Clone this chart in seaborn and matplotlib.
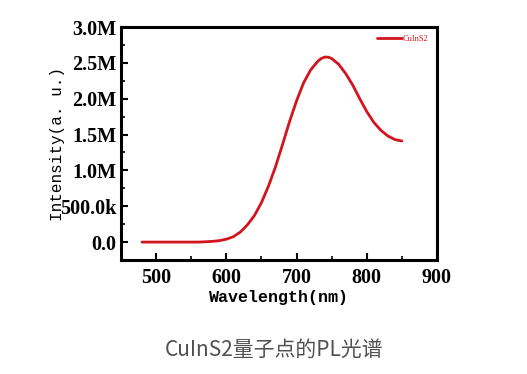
import numpy as np
import pandas as pd
import seaborn as sns
import matplotlib.pyplot as plt
from matplotlib.ticker import MultipleLocator

# PL spectrum
wavelength = [480, 500, 520, 540, 560, 570, 580, 590, 600, 610, 620, 630, 640,
              650, 660, 670, 680, 690, 700, 710, 720, 730, 735, 740, 745, 750,
              760, 770, 780, 790, 800, 810, 820, 830, 840, 850]
intensity_m = [0.0, 0.0, 0.0, 0.0, 0.0, 0.004, 0.01, 0.02, 0.04, 0.075, 0.14,
               0.24, 0.37, 0.55, 0.78, 1.05, 1.36, 1.68, 1.97, 2.22, 2.40, 2.52,
               2.56, 2.58, 2.58, 2.56, 2.48, 2.35, 2.19, 2.00, 1.82, 1.67, 1.56,
               1.48, 1.43, 1.41]
y_ticks = [0, 0.5e6, 1.0e6, 1.5e6, 2.0e6, 2.5e6, 3.0e6]
y_tick_labels = ['0.0', '500.0k', '1.0M', '1.5M', '2.0M', '2.5M', '3.0M']
x_ticks = [500, 600, 700, 800, 900]

data = pd.DataFrame({'Wavelength': wavelength,
                     'Intensity': np.array(intensity_m) * 1e6})

sns.set_style('white')
plt.rcParams['font.family'] = ['Liberation Serif', 'DejaVu Sans']
plt.rcParams['text.color'] = 'black'
plt.rcParams['axes.labelcolor'] = 'black'
plt.rcParams['xtick.color'] = 'black'
plt.rcParams['ytick.color'] = 'black'

fig = plt.figure(figsize=(5.27, 3.74), dpi=100)
ax = fig.add_axes([0.2296, 0.3048, 0.5996, 0.623])

sns.lineplot(x='Wavelength', y='Intensity', data=data, ax=ax, color='#d3141c',
             linewidth=2.0, label='CuInS2', sort=True)

ax.set_xlim(450, 900)
ax.set_ylim(-0.25e6, 3.0e6)
ax.set_xticks(x_ticks)
ax.set_xticklabels([str(v) for v in x_ticks], fontsize=14.5, fontweight='bold')
ax.set_yticks(y_ticks)
ax.set_yticklabels(y_tick_labels, fontsize=14.5, fontweight='bold')
ax.xaxis.set_minor_locator(MultipleLocator(50))
ax.yaxis.set_minor_locator(MultipleLocator(0.25e6))
ax.tick_params(axis='x', which='major', pad=6)
ax.tick_params(which='major', direction='in', length=5, width=1.5,
               bottom=True, left=True, top=False, right=False)
ax.tick_params(which='minor', direction='in', length=3, width=1.2,
               bottom=True, left=True, top=False, right=False)
for sp in ax.spines.values():
    sp.set_linewidth(2.2)
    sp.set_color('black')

ax.set_xlabel('Wavelength(nm)', family='Liberation Mono', fontsize=12,
              fontweight='bold', labelpad=1)
ax.set_ylabel('Intensity(a. u.)', family='Liberation Mono', fontsize=11.5,
              labelpad=-4)

leg = ax.legend(loc='upper right', frameon=False, fontsize=6,
                handlelength=3, handletextpad=0.1, borderaxespad=0.6)
for t in leg.get_texts():
    t.set_color('#d3141c')

fig.text(0.52, 0.065, 'CuInS2量子点的PL光谱', ha='center', va='center',
         fontsize=15, color='#505050',
         family=['Noto Sans CJK SC', 'DejaVu Sans'])

fig.savefig('out.png', dpi=100, facecolor='white')
